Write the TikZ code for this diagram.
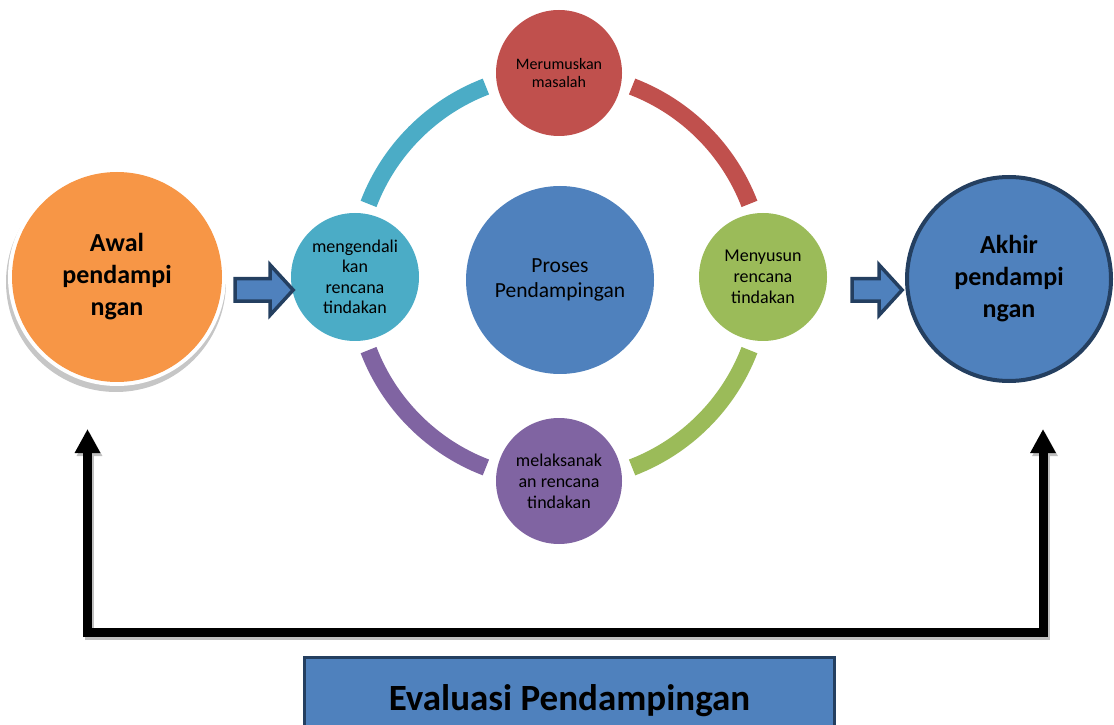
\documentclass[tikz,border=0pt]{standalone}
\usepackage{fontspec}
\setmainfont{Carlito}
\definecolor{ringcyan}{RGB}{75,172,198}
\definecolor{ringred}{RGB}{192,80,77}
\definecolor{ringgreen}{RGB}{155,187,89}
\definecolor{ringpurple}{RGB}{128,100,162}
\definecolor{startorange}{RGB}{247,150,70}
\definecolor{mainblue}{RGB}{79,129,189}
\definecolor{darknavy}{RGB}{36,63,96}
\usetikzlibrary{shapes.arrows, arrows.meta, positioning}

\begin{document}
\begin{tikzpicture}[x=1pt, y=1pt, >={Triangle[width=24pt,length=24pt]}]
      \useasboundingbox (0,0) rectangle (1114,724);
      \coordinate (ring) at (559,447);
      % ring segments between the step circles
      \foreach \a/\c in {159/ringcyan, 69/ringred, -21/ringgreen, -111/ringpurple}
        \draw[line width=17pt, \c] ([shift={(ring)}]\a:204) arc[start angle=\a, end angle=\a-48, radius=204];

      \node (proses) [circle, fill=mainblue, minimum size=188pt, inner sep=0pt, align=center, font=\fontsize{21.5}{25}\selectfont] at (560,444) {Proses\\Pendampingan};
      \node (rumus) [circle, fill=ringred, minimum size=126pt, inner sep=0pt, align=center, font=\fontsize{16}{18.5}\selectfont] at (559,651) {Merumuskan\\masalah};
      \node (susun) [circle, fill=ringgreen, minimum size=128pt, inner sep=0pt, align=center, font=\fontsize{18}{21}\selectfont] at (763,447) {Menyusun\\rencana\\tindakan};
      \node (laksana) [circle, fill=ringpurple, minimum size=126pt, inner sep=0pt, align=center, font=\fontsize{18}{21}\selectfont] at (559,243) {melaksanak\\an rencana\\tindakan};
      \node (kendali) [circle, fill=ringcyan, minimum size=128pt, inner sep=0pt, align=center, font=\fontsize{18}{20.5}\selectfont] at (355,447) {mengendali\\kan\\rencana\\tindakan};

      % start and end of the process
      \fill[gray!45] (116,442) circle (110);
      \fill[white] (117,447) circle (109);
      \node (awal) [circle, fill=startorange, minimum size=210pt, inner sep=0pt, align=center, font=\fontsize{26}{32}\selectfont\bfseries] at (117,447) {Awal\\pendampi\\ngan};
      \node (akhir) [circle, draw=darknavy, line width=4pt, fill=mainblue, minimum size=204pt, inner sep=0pt, align=center, font=\fontsize{26}{32}\selectfont\bfseries] at (1009,445) {Akhir\\pendampi\\ngan};

      \node (pushin) [single arrow, draw=darknavy, fill=mainblue, line width=3.5pt, minimum height=58pt, inner xsep=0pt, inner ysep=9.5pt, single arrow head extend=14pt, single arrow tip angle=95] at (259,434) {};
      \node (pushout) [single arrow, draw=darknavy, fill=mainblue, line width=3.5pt, minimum height=50pt, inner xsep=0pt, inner ysep=9.5pt, single arrow head extend=14pt, single arrow tip angle=95] at (872,434) {};

      % evaluation loop
      \coordinate (evalL) at (87.5,87);
      \coordinate (evalLtip) at (87.5,295);
      \coordinate (evalR) at (1043,87);
      \coordinate (evalRtip) at (1043,295);
      \coordinate (baseL) at (92,91.5);
      \coordinate (baseR) at (1047,91.5);
      \draw[->, line width=9pt, gray!50] ([shift={(2,-3)}]evalL) -- ([shift={(2,-3)}]evalLtip);
      \draw[->, line width=9pt, gray!50] ([shift={(2,-3)}]evalR) -- ([shift={(2,-3)}]evalRtip);
      \draw[line width=9pt, gray!50] ([shift={(2,-3)}]baseL) -- ([shift={(2,-3)}]baseR);
      \draw[->, line width=9pt] (evalL) -- (evalLtip);
      \draw[->, line width=9pt] (evalR) -- (evalRtip);
      \draw[line width=9pt] (baseL) -- (baseR);

      \node (eval) [rectangle, draw=darknavy, fill=mainblue, line width=3pt, minimum width=530pt, minimum height=88pt, font=\fontsize{37}{40}\selectfont\bfseries] at (569.5,23) {Evaluasi Pendampingan};
    \end{tikzpicture}
\end{document}
